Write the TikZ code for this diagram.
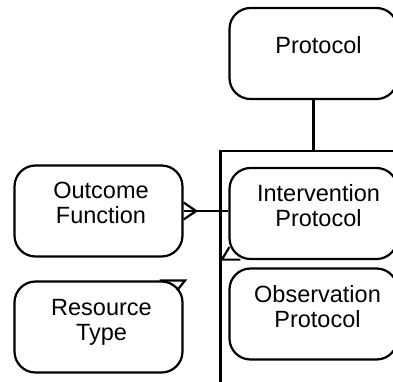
\documentclass[tikz,border=0pt]{standalone}
\usepackage{fontspec}
\setmainfont{Liberation Sans}
\usetikzlibrary{calc}

\tikzset{
  entity/.style={draw, line width=2.2pt, rounded corners=21pt,
    minimum width=168pt, minimum height=91pt, inner sep=0pt},
  etext/.style={align=center, anchor=base, inner sep=0pt,
    font=\fontsize{23.5}{25}\selectfont},
  link/.style={line width=2.2pt},
}

\begin{document}
\begin{tikzpicture}[x=1pt,y=-1pt]
		\useasboundingbox (0,0) rectangle (393,382);
		\clip (0,0) rectangle (393,382);
		
		%%%%% boxes %%%%%
		\node[entity] (pr) at (313.5, 53.5) {};
		\node[entity] (of) at (98.5, 211) {};
		\node[entity] (rt) at (98.5, 327) {};
		\node[entity] (ip) at (313.5, 213.5) {};
		\node[entity] (op) at (313.5, 314) {};
		
		\node[etext] (prt) at ([xshift=5pt]pr.center) {Protocol};
		\node[etext] (oft) at ([xshift=2.5pt,yshift=-12.5pt]of.center) {Outcome\\Function};
		\node[etext] (rtt) at ([xshift=3pt,yshift=-13pt]rt.center) {Resource\\Type};
		\node[etext] (ipt) at ([xshift=5pt,yshift=-13pt]ip.center) {Intervention\\Protocol};
		\node[etext] (opt) at ([xshift=4pt,yshift=-13pt]op.center) {Observation\\Protocol};
		
		%%%%% group %%%%%
		\coordinate (gtop) at (220.5, 151);
		\draw[link] (gtop) rectangle (400, 390);
		\draw[link] (pr.south) -- (pr.south |- gtop);
		
		%%%%% links %%%%%
		\draw[link] (of.east) -- (of.east -| ip.west);
		\draw[link] ($(of.east)+(0,-8.5)$) -- ($(of.east)+(12.5,0)$) -- ($(of.east)+(0,8.5)$);
		
		\draw[link] ($(ip.south west)+(1,-13)$) -- ($(ip.south west)+(-6.5,-0.5)$) -- ($(ip.south west)+(12,-0.5)$);
		\draw[link] ($(rt.north east)+(-24,0)$) -- ($(rt.north east)+(1.5,0)$) -- ($(rt.north east)+(-6.5,10)$);
	\end{tikzpicture}
\end{document}
